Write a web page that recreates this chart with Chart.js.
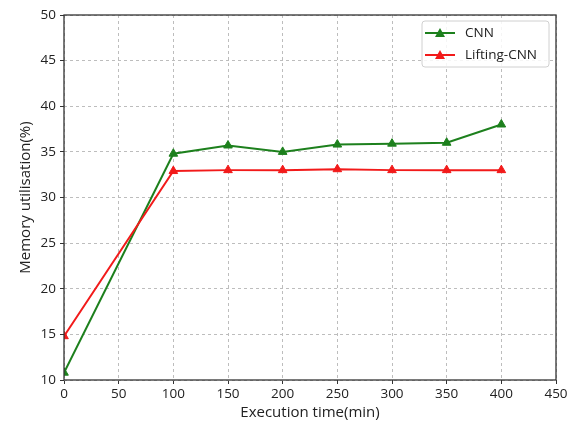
<!DOCTYPE html>
<html>
<head>
<meta charset="utf-8">
<script src="https://cdn.jsdelivr.net/npm/chart.js@4.4.0/dist/chart.umd.min.js"></script>
<style>
  html, body { margin: 0; padding: 0; background: #fff; }
</style>
</head>
<body>
<canvas id="memChart" width="573" height="424"></canvas>
<script>
const execTimes = [0, 100, 150, 200, 250, 300, 350, 400];
const cnnMemory = [10.8, 34.8, 35.7, 35.0, 35.8, 35.9, 36.0, 38.0];
const liftingMemory = [14.8, 32.9, 33.0, 33.0, 33.1, 33.0, 33.0, 33.0];
const seriesNames = ['CNN', 'Lifting-CNN'];
const seriesColors = ['#1d801d', '#f21a1a'];

const toPoints = vals => execTimes.map((t, i) => ({ x: t, y: vals[i] }));

// frame round the plot area plus a matplotlib-like legend box
const frameAndLegend = {
    id: 'frameAndLegend',
    afterDraw(chart) {
        const { ctx, chartArea: a } = chart;
        ctx.save();
        ctx.strokeStyle = '#333';
        ctx.lineWidth = 1.3;
        ctx.strokeRect(a.left, a.top, a.right - a.left, a.bottom - a.top);

        const bx = 422, by = 21, bw = 127, bh = 46;
        ctx.fillStyle = 'rgba(255,255,255,0.85)';
        ctx.strokeStyle = '#d0d0d0';
        ctx.lineWidth = 1;
        ctx.beginPath();
        ctx.roundRect(bx, by, bw, bh, 3);
        ctx.fill();
        ctx.stroke();

        seriesNames.forEach((name, i) => {
            const y = 33 + i * 22;
            ctx.strokeStyle = seriesColors[i];
            ctx.lineWidth = 2;
            ctx.beginPath();
            ctx.moveTo(425, y);
            ctx.lineTo(455, y);
            ctx.stroke();
            ctx.fillStyle = seriesColors[i];
            ctx.beginPath();
            ctx.moveTo(440, y - 5);
            ctx.lineTo(445, y + 4);
            ctx.lineTo(435, y + 4);
            ctx.closePath();
            ctx.fill();
            ctx.fillStyle = '#222';
            ctx.font = '13.5px "Open Sans"';
            ctx.textBaseline = 'middle';
            ctx.fillText(name, 465, y);
        });
        ctx.restore();
    }
};

const ctx = document.getElementById('memChart').getContext('2d');
new Chart(ctx, {
    type: 'line',
    data: {
        datasets: [
            {
                label: seriesNames[0],
                data: toPoints(cnnMemory),
                borderColor: seriesColors[0],
                backgroundColor: seriesColors[0],
                borderWidth: 2,
                pointStyle: 'triangle',
                pointRadius: 5,
                pointBorderWidth: 1,
                order: 2
            },
            {
                label: seriesNames[1],
                data: toPoints(liftingMemory),
                borderColor: seriesColors[1],
                backgroundColor: seriesColors[1],
                borderWidth: 2,
                pointStyle: 'triangle',
                pointRadius: 5,
                pointBorderWidth: 1,
                order: 1
            }
        ]
    },
    options: {
        responsive: false,
        animation: false,
        layout: { padding: { left: 13, right: 17, top: 15, bottom: 0 } },
        plugins: {
            legend: { display: false },
            tooltip: { enabled: false }
        },
        scales: {
            x: {
                type: 'linear',
                min: 0,
                max: 450,
                afterFit: s => { s.height = 44; },
                ticks: {
                    stepSize: 50,
                    color: '#222',
                    padding: 2,
                    maxRotation: 0,
                    font: { family: 'Open Sans', size: 13.5 }
                },
                grid: {
                    color: '#bdbdbd',
                    lineWidth: 1,
                    tickLength: 4,
                    tickColor: '#333',
                    tickBorderDash: []
                },
                border: { display: false, dash: [3, 3] },
                title: {
                    display: true,
                    text: 'Execution time(min)',
                    color: '#222',
                    padding: 2,
                    font: { family: 'Open Sans', size: 15 }
                }
            },
            y: {
                min: 10,
                max: 50,
                afterFit: s => { s.width = 51; },
                ticks: {
                    stepSize: 5,
                    color: '#222',
                    padding: 4,
                    font: { family: 'Open Sans', size: 13.5 }
                },
                grid: {
                    color: '#bdbdbd',
                    lineWidth: 1,
                    tickLength: 4,
                    tickColor: '#333',
                    tickBorderDash: []
                },
                border: { display: false, dash: [3, 3] },
                title: {
                    display: true,
                    text: 'Memory utilisation(%)',
                    color: '#222',
                    padding: 4,
                    font: { family: 'Open Sans', size: 15 }
                }
            }
        }
    },
    plugins: [frameAndLegend]
});
</script>
</body>
</html>
